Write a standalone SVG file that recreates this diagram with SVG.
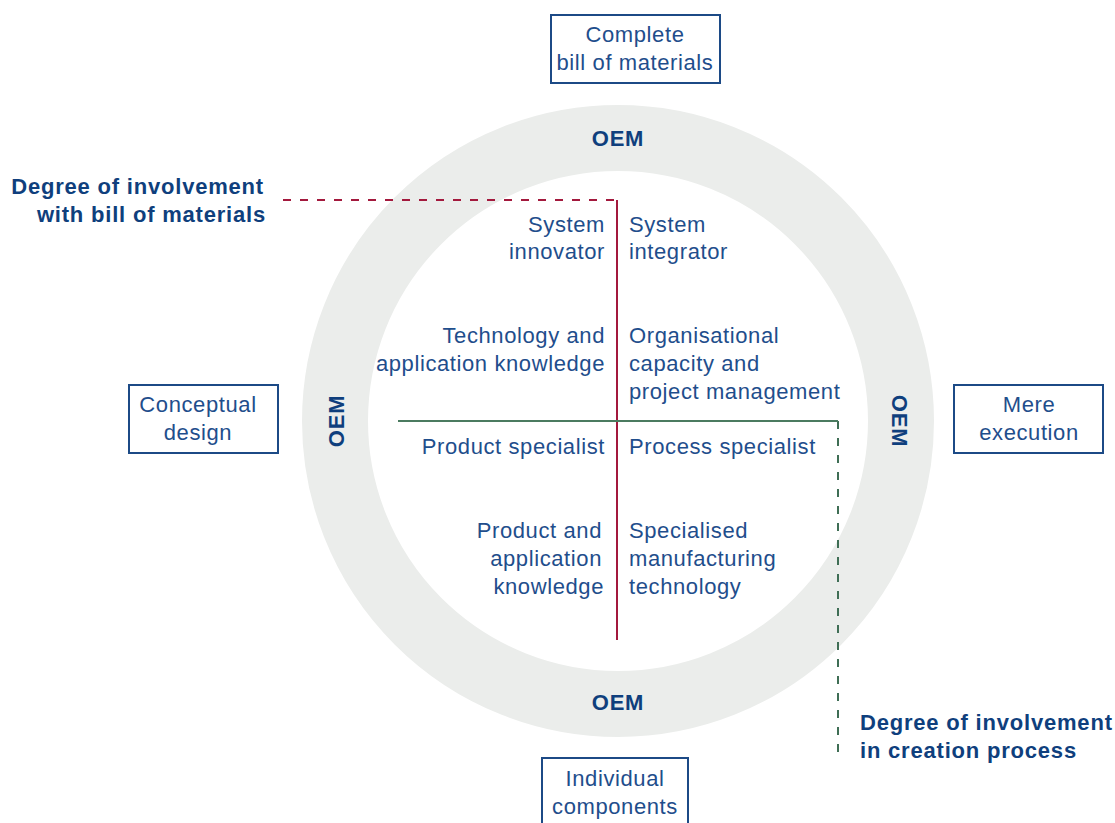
<svg xmlns="http://www.w3.org/2000/svg" width="1115" height="823" viewBox="0 0 1115 823">
  <style>
    .box { fill: #ffffff; stroke: #1c4a86; stroke-width: 2; }
    .lbl { font-family: "Liberation Sans", Arial, sans-serif; font-size: 22px; letter-spacing: 0.6px; fill: #1f4e8c; }
    .c { text-anchor: middle; }
    .r { text-anchor: end; }
    .bold { font-family: "Liberation Sans", Arial, sans-serif; font-size: 22px; letter-spacing: 0.8px; font-weight: bold; fill: #0f3f7d; }
  </style>
  <rect width="1115" height="823" fill="#ffffff"/>

  <!-- OEM ring -->
  <g id="ring">
    <circle cx="618" cy="421" r="283" fill="none" stroke="#ebedeb" stroke-width="66"/>
    <text class="bold c" x="618" y="146">OEM</text>
    <text class="bold c" x="618" y="710">OEM</text>
    <text class="bold c" transform="translate(344 421) rotate(-90)">OEM</text>
    <text class="bold c" transform="translate(892 421) rotate(90)">OEM</text>
  </g>

  <!-- axes and dashed leaders -->
  <g id="connectors">
    <line x1="283" y1="200" x2="617" y2="200" stroke="#a3193d" stroke-width="2" stroke-dasharray="8 9"/>
    <line x1="838" y1="421" x2="838" y2="760" stroke="#3f6e55" stroke-width="2" stroke-dasharray="8 9"/>
    <line x1="617" y1="200" x2="617" y2="640" stroke="#a3193d" stroke-width="2"/>
    <line x1="398" y1="421" x2="838" y2="421" stroke="#4b7b60" stroke-width="2"/>
  </g>

  <g id="box-top">
    <rect class="box" x="551" y="15" width="169" height="68"/>
    <text class="lbl c" x="635" y="42">Complete</text>
    <text class="lbl c" x="635" y="70">bill of materials</text>
  </g>
  <g id="box-left">
    <rect class="box" x="129" y="385" width="149" height="68"/>
    <text class="lbl c" x="198" y="412">Conceptual</text>
    <text class="lbl c" x="198" y="440">design</text>
  </g>
  <g id="box-right">
    <rect class="box" x="954" y="385" width="149" height="68"/>
    <text class="lbl c" x="1029" y="412">Mere</text>
    <text class="lbl c" x="1029" y="440">execution</text>
  </g>
  <g id="box-bottom">
    <rect class="box" x="542" y="758" width="146" height="70"/>
    <text class="lbl c" x="615" y="786">Individual</text>
    <text class="lbl c" x="615" y="814">components</text>
  </g>

  <g id="axis-bom">
    <text class="bold r" x="264" y="194">Degree of involvement</text>
    <text class="bold r" x="266" y="222">with bill of materials</text>
  </g>
  <g id="axis-process">
    <text class="bold" x="860" y="730">Degree of involvement</text>
    <text class="bold" x="860" y="758">in creation process</text>
  </g>

  <g id="q-system-innovator">
    <text class="lbl r" x="605" y="232">System</text>
    <text class="lbl r" x="605" y="259">innovator</text>
    <text class="lbl r" x="605" y="343">Technology and</text>
    <text class="lbl r" x="605" y="371">application knowledge</text>
  </g>
  <g id="q-system-integrator">
    <text class="lbl" x="629" y="232">System</text>
    <text class="lbl" x="629" y="259">integrator</text>
    <text class="lbl" x="629" y="343">Organisational</text>
    <text class="lbl" x="629" y="371">capacity and</text>
    <text class="lbl" x="629" y="399">project management</text>
  </g>
  <g id="q-product-specialist">
    <text class="lbl r" x="605" y="454">Product specialist</text>
    <text class="lbl r" x="602" y="538">Product and</text>
    <text class="lbl r" x="602" y="566">application</text>
    <text class="lbl r" x="604" y="594">knowledge</text>
  </g>
  <g id="q-process-specialist">
    <text class="lbl" x="629" y="454">Process specialist</text>
    <text class="lbl" x="629" y="538">Specialised</text>
    <text class="lbl" x="629" y="566">manufacturing</text>
    <text class="lbl" x="629" y="594">technology</text>
  </g>
</svg>
